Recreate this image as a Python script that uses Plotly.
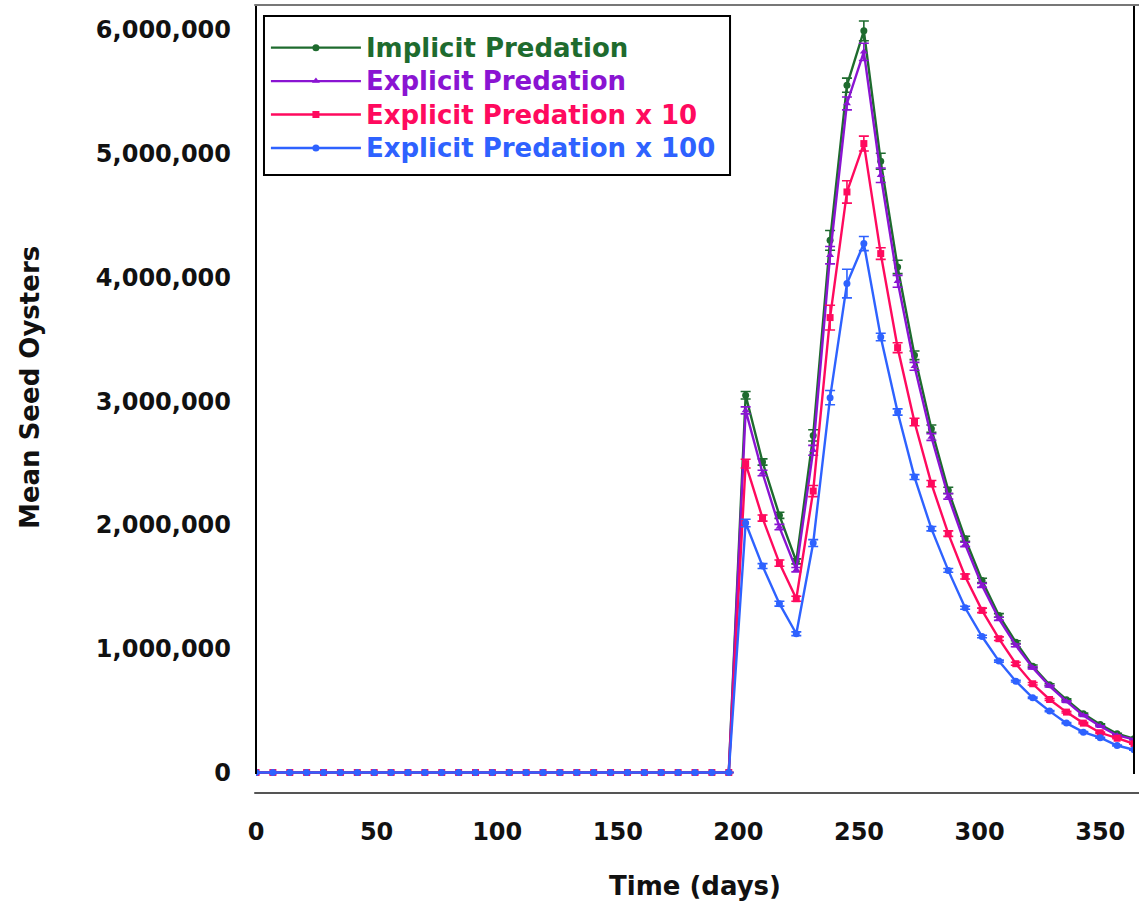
import plotly.graph_objects as go

# Sampling days (weekly over one year)
days = list(range(0, 365, 7))
n_zero = 29  # days 0..196 have no seed oysters yet

# Mean seed oysters (millions) from day 203 onward
implicit = [3.048, 2.509, 2.078, 1.706, 2.724, 4.300, 5.554, 5.993, 4.939, 4.085, 3.371, 2.778,
            2.280, 1.889, 1.552, 1.269, 1.053, 0.859, 0.709, 0.588, 0.475, 0.388, 0.313, 0.272]
explicit = [2.926, 2.420, 1.983, 1.639, 2.603, 4.180, 5.406, 5.823, 4.826, 3.969, 3.282, 2.711,
            2.231, 1.843, 1.512, 1.242, 1.027, 0.846, 0.698, 0.574, 0.461, 0.374, 0.299, 0.267]
explicit_x10 = [2.496, 2.056, 1.692, 1.404, 2.274, 3.676, 4.691, 5.082, 4.193, 3.433, 2.832, 2.334,
                1.930, 1.584, 1.310, 1.081, 0.879, 0.717, 0.590, 0.488, 0.399, 0.321, 0.277, 0.232]
explicit_x100 = [2.016, 1.668, 1.364, 1.121, 1.854, 3.029, 3.951, 4.274, 3.519, 2.913, 2.387, 1.970,
                 1.633, 1.331, 1.099, 0.900, 0.738, 0.604, 0.496, 0.399, 0.326, 0.281, 0.218, 0.184]

# Standard errors (millions)
err_implicit = [0.030, 0.025, 0.025, 0.020, 0.045, 0.080, 0.057, 0.080, 0.065, 0.054, 0.035, 0.030,
                0.025, 0.020, 0.018, 0.015, 0.012, 0.010, 0.008, 0.007, 0.006, 0.005, 0.004, 0.004]
err_explicit = [0.028, 0.022, 0.022, 0.018, 0.040, 0.070, 0.052, 0.070, 0.058, 0.048, 0.032, 0.027,
                0.022, 0.018, 0.016, 0.013, 0.011, 0.009, 0.007, 0.006, 0.005, 0.004, 0.004, 0.003]
err_x10 = [0.035, 0.025, 0.025, 0.020, 0.045, 0.100, 0.090, 0.060, 0.047, 0.040, 0.030, 0.025,
           0.022, 0.020, 0.018, 0.015, 0.012, 0.010, 0.008, 0.007, 0.006, 0.005, 0.004, 0.004]
err_x100 = [0.030, 0.020, 0.020, 0.015, 0.028, 0.058, 0.116, 0.057, 0.030, 0.025, 0.020, 0.018,
            0.015, 0.012, 0.010, 0.008, 0.007, 0.006, 0.005, 0.004, 0.004, 0.003, 0.003, 0.003]

y_ticks = [0, 1_000_000, 2_000_000, 3_000_000, 4_000_000, 5_000_000, 6_000_000]
x_ticks = [0, 50, 100, 150, 200, 250, 300, 350]

series = [
    ("Implicit Predation", implicit, err_implicit, "#1e6b2e", "circle"),
    ("Explicit Predation", explicit, err_explicit, "#8a14d2", "triangle-up"),
    ("Explicit Predation x 10", explicit_x10, err_x10, "#ff0a5e", "square"),
    ("Explicit Predation x 100", explicit_x100, err_x100, "#2e62ff", "circle"),
]

FONT = "DejaVu Sans"

fig = go.Figure()
for name, vals, errs, color, sym in series:
    y = [0.0] * n_zero + [v * 1e6 for v in vals]
    e = [0.0] * n_zero + [v * 1e6 for v in errs]
    fig.add_trace(go.Scatter(
        x=days, y=y, mode="lines+markers",
        name=f'<span style="color:{color};font-size:26px"><b>{name}</b></span>',
        line=dict(color=color, width=2.4),
        marker=dict(color=color, size=7, symbol=sym),
        error_y=dict(type="data", array=e, visible=True, color=color, thickness=1.6, width=5),
    ))

fig.update_layout(
    width=1139, height=909,
    margin=dict(l=256, r=5, t=5, b=116),
    paper_bgcolor="white", plot_bgcolor="white",
    showlegend=True,
    legend=dict(
        x=0.0113, y=0.9734, xanchor="left", yanchor="top",
        bgcolor="rgba(0,0,0,0)", borderwidth=0,
        font=dict(family=FONT, size=23.4),
        itemwidth=90, tracegroupgap=0,
    ),
    xaxis=dict(
        range=[0, 364], tickvals=x_ticks, showgrid=False, zeroline=False,
        showline=False, ticks="", ticklabelstandoff=22,
        tickfont=dict(family=FONT, size=24, color="#111111", weight="bold"),
    ),
    yaxis=dict(
        range=[-165700, 6201700], tickvals=y_ticks, tickformat=",d",
        showgrid=False, zeroline=False, showline=False, ticks="",
        ticklabelstandoff=24,
        tickfont=dict(family=FONT, size=24, color="#111111", weight="bold"),
    ),
    annotations=[
        dict(text="<b>Mean Seed Oysters</b>", textangle=-90, xref="paper", yref="paper",
             x=-0.2574, y=0.514, xanchor="center", yanchor="middle", showarrow=False,
             font=dict(family=FONT, size=26, color="#111111")),
        dict(text="<b>Time (days)</b>", xref="paper", yref="paper",
             x=0.5, y=-0.118, xanchor="center", yanchor="middle", showarrow=False,
             font=dict(family=FONT, size=26, color="#111111")),
    ],
    shapes=[
        # legend frame
        dict(type="rect", xref="paper", yref="paper", x0=0.0091, x1=0.5399,
             y0=0.7843, y1=0.9860, fillcolor="white", layer="below",
             line=dict(color="black", width=2)),
        # frame: black sides, grey top and separate grey baseline
        dict(type="line", xref="paper", yref="y", x0=0, x1=0, y0=-12000, y1=6201700,
             line=dict(color="black", width=2)),
        dict(type="line", xref="paper", yref="y", x0=1, x1=1, y0=-12000, y1=6201700,
             line=dict(color="black", width=2)),
        dict(type="line", xref="paper", yref="paper", x0=-0.002, x1=1.01, y0=1, y1=1,
             line=dict(color="#777777", width=2)),
        dict(type="line", xref="paper", yref="paper", x0=-0.002, x1=1.01, y0=0, y1=0,
             line=dict(color="#555555", width=2)),
    ],
)

fig.write_html("out.html")
